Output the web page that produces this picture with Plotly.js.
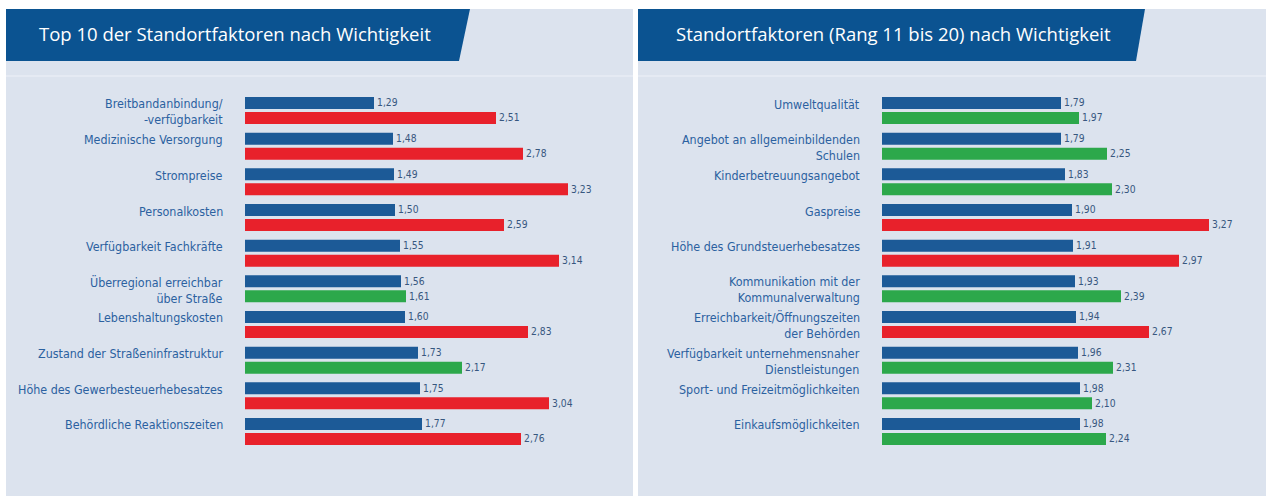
<!DOCTYPE html>
<html>
<head>
<meta charset="utf-8">
<script src="https://cdn.plot.ly/plotly-3.0.1.min.js"></script>
<style>html,body{margin:0;padding:0;background:#fff;}#chart{width:1266px;height:496px;}</style>
</head>
<body>
<div id="chart"></div>
<script>
// ---- data ----
const leftTitle = 'Top 10 der Standortfaktoren nach Wichtigkeit';
const rightTitle = 'Standortfaktoren (Rang 11 bis 20) nach Wichtigkeit';

const leftCategories = ['Breitbandanbindung/<br>-verfügbarkeit','Medizinische Versorgung','Strompreise','Personalkosten','Verfügbarkeit Fachkräfte','Überregional erreichbar<br>über Straße','Lebenshaltungskosten','Zustand der Straßeninfrastruktur','Höhe des Gewerbesteuerhebesatzes','Behördliche Reaktionszeiten'];
const leftImportance = [1.29,1.48,1.49,1.50,1.55,1.56,1.60,1.73,1.75,1.77];
const leftRating = [2.51,2.78,3.23,2.59,3.14,1.61,2.83,2.17,3.04,2.76];
const leftRatingGroup = ['schlecht','schlecht','schlecht','schlecht','schlecht','gut','schlecht','gut','schlecht','schlecht'];

const rightCategories = ['Umweltqualität','Angebot an allgemeinbildenden<br>Schulen','Kinderbetreuungsangebot','Gaspreise','Höhe des Grundsteuerhebesatzes','Kommunikation mit der<br>Kommunalverwaltung','Erreichbarkeit/Öffnungszeiten<br>der Behörden','Verfügbarkeit unternehmensnaher<br>Dienstleistungen','Sport- und Freizeitmöglichkeiten','Einkaufsmöglichkeiten'];
const rightImportance = [1.79,1.79,1.83,1.90,1.91,1.93,1.94,1.96,1.98,1.98];
const rightRating = [1.97,2.25,2.30,3.27,2.97,2.39,2.67,2.31,2.10,2.24];
const rightRatingGroup = ['gut','gut','gut','schlecht','schlecht','gut','schlecht','gut','gut','gut'];

// ---- styles ----
const W = 1266, H = 496;
const BLUE = '#1c5a97', RED = '#e8212b', GREEN = '#2ca84b';
const groupColor = {gut: GREEN, schlecht: RED};
const LABEL_FONT = 'Liberation Sans Narrow, DejaVu Sans Condensed, Arial Narrow, sans-serif';
const px = v => v / W, py = v => 1 - v / H;

function bars(cats, vals, colors, xa, ya) {
  return {
    type: 'bar', orientation: 'h', y: cats, x: vals, xaxis: xa, yaxis: ya,
    marker: {color: colors, line: {width: 0}},
    texttemplate: '%{x:.2f}', textposition: 'outside', cliponaxis: false,
    textfont: {family: LABEL_FONT, size: 12, color: '#37577f'},
    hoverinfo: 'skip', showlegend: false
  };
}

const data = [
  bars(leftCategories, leftImportance, BLUE, 'x', 'y'),
  bars(leftCategories, leftRating, leftRatingGroup.map(g => groupColor[g]), 'x', 'y'),
  bars(rightCategories, rightImportance, BLUE, 'x2', 'y2'),
  bars(rightCategories, rightRating, rightRatingGroup.map(g => groupColor[g]), 'x2', 'y2')
];

const yTop = 92.7, yBot = 449.3;
const axX = {range: [0, 3.8], showgrid: false, zeroline: false, showticklabels: false, ticks: '', fixedrange: true};
const axY = {type: 'category', range: [9.5, -0.5], showgrid: false, zeroline: false, showticklabels: false, ticks: '', fixedrange: true, domain: [py(yBot), py(yTop)]};

function labelAnns(cats, xref, yref) {
  return cats.map(c => ({
    xref: xref + ' domain', yref: yref, x: 0, y: c, xanchor: 'right', yanchor: 'middle',
    xshift: -20, yshift: c.indexOf('<br>') >= 0 ? -1 : 6.5,
    text: c, showarrow: false, align: 'right',
    font: {family: LABEL_FONT, size: 12.4, color: '#2b61a0'}
  }));
}

const PANEL = '#dce3ee';
const shapes = [
  {type: 'rect', xref: 'paper', yref: 'paper', x0: px(6), x1: px(633), y0: 0, y1: py(9), fillcolor: PANEL, line: {width: 0}, layer: 'below'},
  {type: 'rect', xref: 'paper', yref: 'paper', x0: px(638), x1: 1, y0: 0, y1: py(9), fillcolor: PANEL, line: {width: 0}, layer: 'below'},
  {type: 'line', xref: 'paper', yref: 'paper', x0: px(6), x1: px(633), y0: py(76), y1: py(76), line: {color: '#e8edf5', width: 1.5}, layer: 'below'},
  {type: 'line', xref: 'paper', yref: 'paper', x0: px(638), x1: 1, y0: py(76), y1: py(76), line: {color: '#e8edf5', width: 1.5}, layer: 'below'},
  {type: 'path', xref: 'paper', yref: 'paper', layer: 'below', fillcolor: '#0b5391', line: {width: 0},
   path: `M ${px(6)} ${py(9)} L ${px(470)} ${py(9)} L ${px(459)} ${py(61)} L ${px(6)} ${py(61)} Z`},
  {type: 'path', xref: 'paper', yref: 'paper', layer: 'below', fillcolor: '#0b5391', line: {width: 0},
   path: `M ${px(638)} ${py(9)} L ${px(1145)} ${py(9)} L ${px(1136)} ${py(61)} L ${px(638)} ${py(61)} Z`}
];

const titleAnns = [
  {xref: 'paper', yref: 'paper', x: px(37), y: py(33), xanchor: 'left', yanchor: 'middle', showarrow: false,
   text: leftTitle, font: {family: 'Open Sans, Noto Sans, sans-serif', size: 18.5, color: '#ffffff'}},
  {xref: 'paper', yref: 'paper', x: px(674), y: py(33), xanchor: 'left', yanchor: 'middle', showarrow: false,
   text: rightTitle, font: {family: 'Open Sans, Noto Sans, sans-serif', size: 18.5, color: '#ffffff'}}
];

const layout = {
  width: W, height: H,
  margin: {l: 0, r: 0, t: 0, b: 0},
  paper_bgcolor: '#ffffff', plot_bgcolor: 'rgba(0,0,0,0)',
  separators: ',.',
  barmode: 'group', bargap: 0.16, bargroupgap: 0.2,
  xaxis: Object.assign({}, axX, {domain: [px(245), px(625)], anchor: 'y'}),
  yaxis: Object.assign({}, axY, {anchor: 'x'}),
  xaxis2: Object.assign({}, axX, {domain: [px(882), px(1262)], anchor: 'y2'}),
  yaxis2: Object.assign({}, axY, {anchor: 'x2'}),
  shapes: shapes,
  annotations: titleAnns.concat(labelAnns(leftCategories, 'x', 'y'), labelAnns(rightCategories, 'x2', 'y2'))
};

Plotly.newPlot('chart', data, layout, {displayModeBar: false, staticPlot: true});
</script>
</body>
</html>
